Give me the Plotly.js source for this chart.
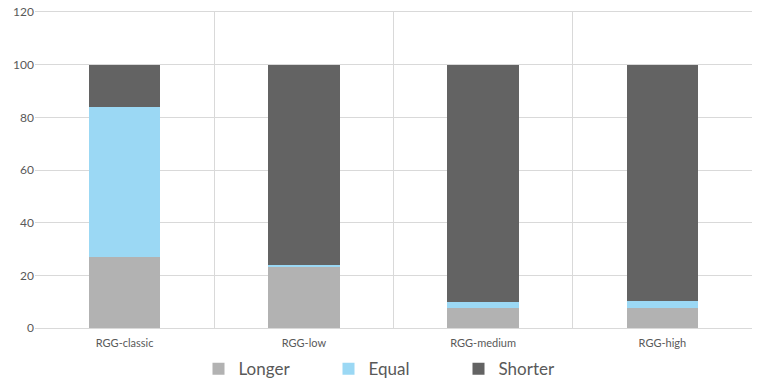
<!DOCTYPE html>
<html>
<head>
<meta charset="utf-8">
<script src="https://cdn.plot.ly/plotly-3.0.1.min.js"></script>
<style>
  html, body { margin: 0; padding: 0; background: #fff; }
  #chart { width: 764px; height: 392px; }
</style>
</head>
<body>
<div id="chart"></div>
<script>
// Share of cases per RGG setting (percent)
const categories = ['RGG-classic', 'RGG-low', 'RGG-medium', 'RGG-high'];
const longer = [26.8, 23.0, 7.7, 7.6];
const equal = [57.2, 1.0, 2.0, 2.7];
const shorter = [16.0, 76.0, 90.3, 89.7];

const seriesNames = ['Longer', 'Equal', 'Shorter'];
const seriesColors = ['#b2b2b2', '#9bd8f4', '#636363'];

const traces = [longer, equal, shorter].map((vals, i) => ({
    type: 'bar',
    name: seriesNames[i],
    x: categories,
    y: vals,
    marker: { color: seriesColors[i], line: { width: 0 } },
    hoverinfo: 'skip'
}));

const layout = {
    width: 764,
    height: 392,
    barmode: 'stack',
    bargap: 0.6,
    paper_bgcolor: '#fff',
    plot_bgcolor: '#fff',
    font: { family: 'Lato, "Liberation Sans", sans-serif', color: '#595959' },
    margin: { l: 35, r: 12, t: 12, b: 64 },
    xaxis: {
        type: 'category',
        tickson: 'boundaries',
        showgrid: true,
        gridcolor: '#d9d9d9',
        gridwidth: 1,
        ticks: '',
        ticklabelstandoff: 5,
        showline: true,
        linecolor: '#d9d9d9',
        mirror: true,
        tickfont: { size: 11, color: '#595959' },
        fixedrange: true
    },
    yaxis: {
        range: [0, 120],
        dtick: 20,
        showgrid: true,
        gridcolor: '#d9d9d9',
        gridwidth: 1,
        zeroline: false,
        showline: false,
        ticks: '',
        tickfont: { size: 12, color: '#595959' },
        fixedrange: true
    },
    legend: {
        orientation: 'h',
        x: 0.5,
        xanchor: 'center',
        yref: 'container',
        y: 0.058,
        yanchor: 'middle',
        font: { size: 17, color: '#595959' },
        itemwidth: 30,
        entrywidth: 85,
        traceorder: 'normal'
    },
    showlegend: true
};

Plotly.newPlot('chart', traces, layout, { displayModeBar: false, staticPlot: true });
</script>
</body>
</html>
